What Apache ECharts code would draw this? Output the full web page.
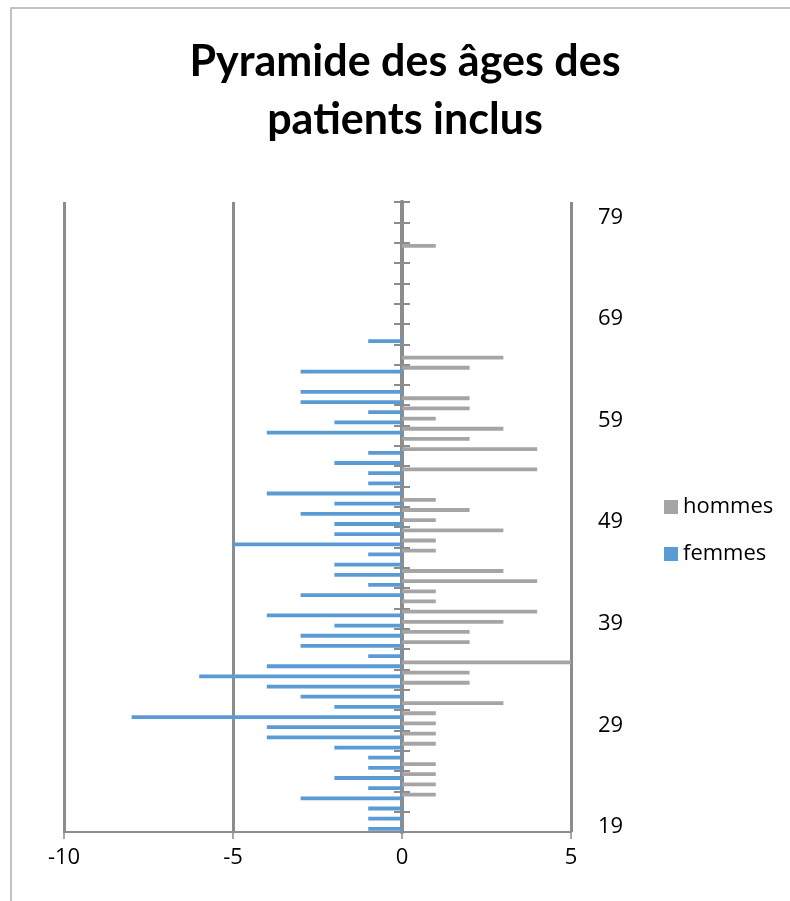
<!DOCTYPE html>
<html>
<head>
<meta charset="utf-8">
<script src="https://cdn.jsdelivr.net/npm/echarts@6/dist/echarts.min.js"></script>
<style>
html,body{margin:0;padding:0;background:#fff;}
#chart{width:790px;height:901px;}
</style>
</head>
<body>
<div id="chart"></div>
<script>
const ages = ['19','20','21','22','23','24','25','26','27','28','29','30','31','32','33','34','35','36','37','38','39','40','41','42','43','44','45','46','47','48','49','50','51','52','53','54','55','56','57','58','59','60','61','62','63','64','65','66','67','68','69','70','71','72','73','74','75','76','77','78','79','80'];
const hommes = [0,0,0,1,1,1,1,0,1,1,1,1,3,0,2,2,5,0,2,2,3,4,1,1,4,3,0,1,1,3,1,2,1,0,0,4,0,4,2,3,1,2,2,0,0,2,3,0,0,0,0,0,0,0,0,0,0,1,0,0,0,0];
const femmes = [-1,-1,-1,-3,-1,-2,-1,-1,-2,-4,-4,-8,-2,-3,-4,-6,-4,-1,-3,-3,-2,-4,0,-3,-1,-2,-2,-1,-5,-2,-2,-3,-2,-4,-1,-1,-2,-1,0,-4,-2,-1,-3,-3,0,-3,0,0,-1,0,0,0,0,0,0,0,0,0,0,0,0,0];
const xTicks = [-10, -5, 0, 5];
const titleText = 'Pyramide des âges des\npatients inclus';

const chart = echarts.init(document.getElementById('chart'), null, {renderer: 'canvas'});
const FONT = 'Open Sans';
const axisGrey = '#8c8c8c';

chart.setOption({
  backgroundColor: '#ffffff',
  animation: false,
  title: {
    text: titleText,
    left: 400,
    textAlign: 'center',
    top: 28,
    textStyle: {fontFamily: 'Lato', fontWeight: 'bold', fontSize: 43, lineHeight: 58, color: '#000'}
  },
  legend: {
    orient: 'vertical',
    left: 659,
    top: 490,
    itemWidth: 14,
    itemHeight: 14,
    itemGap: 23,
    icon: 'rect',
    data: ['hommes', 'femmes'],
    textStyle: {fontFamily: FONT, fontSize: 22, color: '#000', lineHeight: 24}
  },
  graphic: [{
    type: 'rect',
    shape: {x: 11, y: 8, width: 820, height: 920},
    style: {fill: 'none', stroke: '#b0b0b0', lineWidth: 1.5},
    silent: true, z: -1
  }],
  grid: {left: 64, right: 219, top: 202, bottom: 69, containLabel: false},
  xAxis: {
    type: 'value',
    min: -10, max: 5, interval: 5,
    axisLine: {show: true, onZero: false, lineStyle: {color: axisGrey, width: 2}},
    axisTick: {show: true, length: 7, lineStyle: {color: axisGrey, width: 1.5}},
    axisLabel: {fontFamily: FONT, fontSize: 22, color: '#000', margin: 15,
      formatter: v => xTicks.indexOf(v) >= 0 ? String(v) : ''},
    splitLine: {show: true, lineStyle: {color: axisGrey, width: 3}}
  },
  yAxis: [
    {
      type: 'category', data: ages, position: 'left',
      axisLine: {show: true, onZero: true, onZeroAxisIndex: 0, lineStyle: {color: axisGrey, width: 4}},
      axisTick: {show: true, interval: 1, length: 8, lineStyle: {color: axisGrey, width: 2}},
      axisLabel: {show: false},
      splitLine: {show: false}
    },
    {
      type: 'category', data: ages, position: 'right',
      axisLine: {show: true, onZero: true, onZeroAxisIndex: 0, lineStyle: {color: axisGrey, width: 4}},
      axisTick: {show: true, interval: 1, length: 8, lineStyle: {color: axisGrey, width: 2}},
      axisLabel: {show: false},
      splitLine: {show: false}
    },
    {
      type: 'category', data: ages, position: 'right',
      axisLine: {show: false, onZero: false},
      axisTick: {show: false},
      axisLabel: {show: true, interval: 9, fontFamily: FONT, fontSize: 22, color: '#000', margin: 27},
      splitLine: {show: false}
    }
  ],
  series: [
    {
      name: 'hommes', type: 'bar', yAxisIndex: 0, data: hommes,
      barWidth: 3.8, barGap: '0%',
      itemStyle: {color: '#A5A5A5'}
    },
    {
      name: 'femmes', type: 'bar', yAxisIndex: 0, data: femmes,
      barWidth: 3.8, barGap: '0%',
      itemStyle: {color: '#5B9BD5'}
    }
  ]
});
</script>
</body>
</html>
